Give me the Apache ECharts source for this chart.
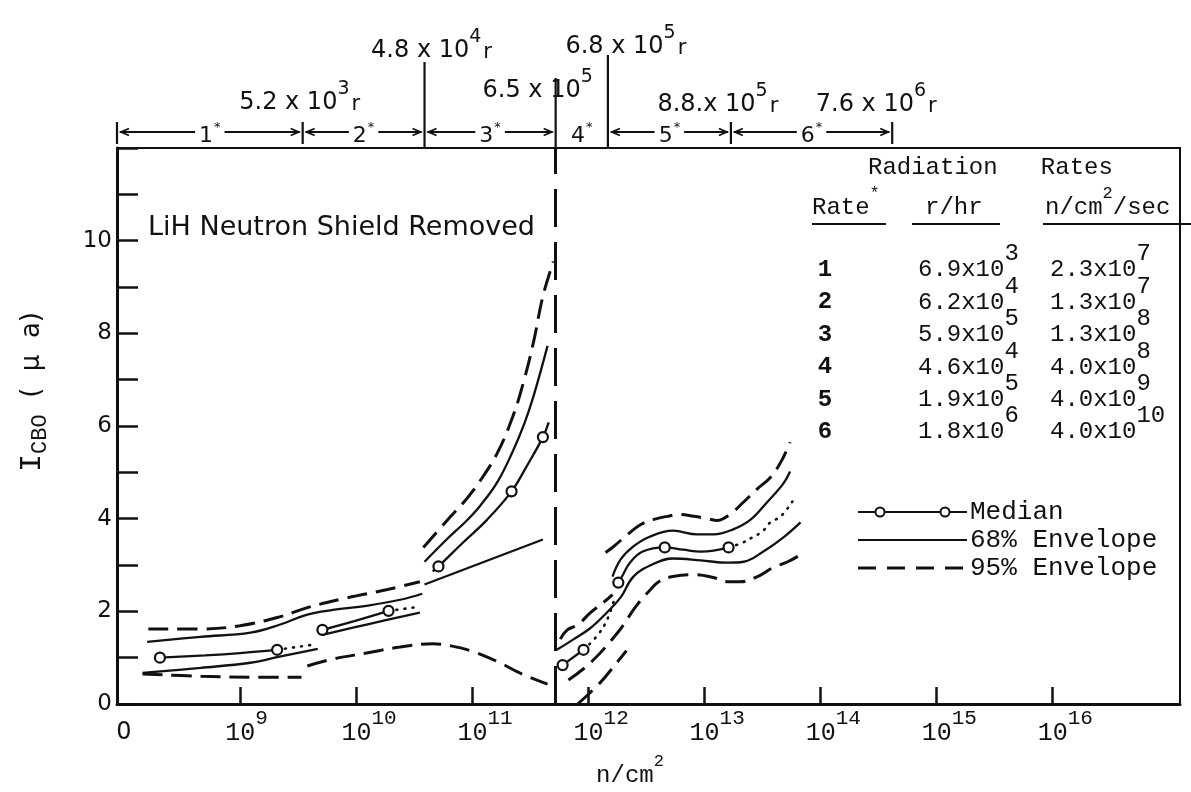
<!DOCTYPE html>
<html>
<head>
<meta charset="utf-8">
<script src="https://cdn.jsdelivr.net/npm/echarts@6.0.0/dist/echarts.min.js"></script>
<style>
html,body{margin:0;padding:0;background:#ffffff;}
#chart{width:1191px;height:792px;}
</style>
</head>
<body>
<div id="chart"></div>
<script>
// ===== DATA (x = log10 of fluence in n/cm^2, y = I_CBO in microamps) =====
const xTickExponents = [9, 10, 11, 12, 13, 14, 15, 16];
const yTickLabels = [0, 2, 4, 6, 8, 10];

// boundaries (log10 fluence) between radiation rates 1..6
const rateBounds = [7.94, 9.54, 10.59, 11.72, 12.17, 13.23, 14.62];
const rateNames = ['1', '2', '3', '4', '5', '6'];
// accumulated dose written at the rate boundaries
const doseMant = ['5.2 x 10', '4.8 x 10', '6.5 x 10', '6.8 x 10', '8.8.x 10', '7.6 x 10'];
const doseExp = ['3', '4', '5', '5', '5', '6'];
const doseUnit = ['r', 'r', '', 'r', 'r', 'r'];

// radiation-rate table
const tableRate = ['1', '2', '3', '4', '5', '6'];
const tableRHrMant = ['6.9x10', '6.2x10', '5.9x10', '4.6x10', '1.9x10', '1.8x10'];
const tableRHrExp = ['3', '4', '5', '4', '5', '6'];
const tableFluxMant = ['2.3x10', '1.3x10', '1.3x10', '4.0x10', '4.0x10', '4.0x10'];
const tableFluxExp = ['7', '7', '8', '8', '9', '10'];

// --- rates 1 & 2 ---
const env95UpA = [[8.21,1.62],[8.66,1.62],[9.00,1.69],[9.34,1.88],[9.58,2.08],[9.92,2.29],[10.27,2.47],[10.55,2.64]];
const env68UpA = [[8.20,1.34],[8.66,1.45],[9.09,1.54],[9.34,1.71],[9.58,1.93],[9.80,2.03],[10.09,2.12],[10.38,2.25],[10.57,2.38]];
const median1 = [[8.31,1.00],[8.70,1.05],[9.00,1.10],[9.32,1.17]];
const median1Circles = [[8.31,1.00],[9.32,1.17]];
const median1Dots = [[9.32,1.17],[9.63,1.28]];
const env68LoA1 = [[8.16,0.67],[8.66,0.78],[9.09,0.89],[9.34,1.02],[9.67,1.19]];
const env95LoA1 = [[8.16,0.65],[8.66,0.60],[9.09,0.58],[9.53,0.58]];
const median2 = [[9.71,1.60],[10.00,1.80],[10.28,2.01]];
const median2Circles = [[9.71,1.60],[10.28,2.01]];
const median2Dots = [[10.28,2.01],[10.55,2.10]];
const env68LoA2 = [[9.71,1.49],[10.10,1.72],[10.55,1.97]];
const env95LoA2 = [[9.58,0.82],[9.80,0.97],[10.09,1.10],[10.38,1.23],[10.66,1.30],[10.81,1.26],[11.01,1.13],[11.24,0.89],[11.41,0.67],[11.65,0.43]];

// --- rate 3 ---
const env95Up3 = [[10.58,3.38],[10.78,3.95],[10.95,4.42],[11.07,4.82],[11.22,5.43],[11.35,6.20],[11.44,6.92],[11.53,7.82],[11.61,8.80],[11.70,9.55]];
const env68Up3 = [[10.59,3.07],[10.78,3.55],[10.95,3.95],[11.07,4.28],[11.22,4.80],[11.35,5.45],[11.45,6.05],[11.53,6.65],[11.65,7.73]];
const median3 = [[10.66,2.86],[10.71,2.97],[10.92,3.48],[11.13,3.98],[11.34,4.59],[11.47,5.13],[11.61,5.76],[11.66,6.08]];
const median3Circles = [[10.71,2.97],[11.34,4.59],[11.61,5.76]];
const env68Lo3 = [[10.59,2.58],[11.61,3.55]];

// --- rates 4, 5, 6 ---
const env95Up4 = [[11.76,1.40],[11.82,1.60],[11.91,1.71],[12.02,1.97],[12.16,2.25],[12.21,2.36]];
const env95Up56 = [[12.15,3.27],[12.22,3.40],[12.34,3.66],[12.45,3.87],[12.56,3.98],[12.68,4.05],[12.79,4.09],[12.91,4.05],[13.03,4.00],[13.11,3.96],[13.22,4.09],[13.34,4.36],[13.46,4.65],[13.57,4.89],[13.66,5.22],[13.74,5.65]];
const env68Up4Lo56 = [[11.73,1.17],[11.87,1.39],[12.02,1.64],[12.16,1.97],[12.28,2.30],[12.39,2.75],[12.56,3.02],[12.73,3.14],[12.97,3.10],[13.20,3.05],[13.34,3.07],[13.51,3.29],[13.68,3.59],[13.83,3.92]];
const env68Up56 = [[12.21,2.75],[12.28,3.12],[12.39,3.40],[12.53,3.61],[12.73,3.74],[12.94,3.66],[13.08,3.66],[13.25,3.77],[13.40,3.98],[13.54,4.35],[13.68,4.75],[13.74,5.02]];
const median4 = [[11.78,0.84],[11.96,1.17]];
const median4Circles = [[11.78,0.84],[11.96,1.17]];
const median4Dots = [[11.96,1.17],[12.07,1.45],[12.16,1.80],[12.23,2.30]];
const median5 = [[12.26,2.62],[12.30,2.79],[12.36,3.05],[12.47,3.29],[12.66,3.38],[12.82,3.33],[12.97,3.29],[13.08,3.31],[13.21,3.38]];
const median5Circles = [[12.26,2.62],[12.66,3.38],[13.21,3.38]];
const median5Dots = [[13.21,3.38],[13.33,3.48],[13.41,3.59],[13.50,3.72],[13.57,3.92],[13.66,4.05],[13.76,4.37]];
const env95Lo456 = [[11.83,0.52],[12.02,0.89],[12.26,1.56],[12.41,2.10],[12.53,2.45],[12.62,2.66],[12.73,2.75],[12.91,2.79],[13.08,2.73],[13.20,2.64],[13.31,2.64],[13.46,2.75],[13.59,2.94],[13.72,3.07],[13.83,3.22]];
const env95Lo4b = [[11.91,0.00],[12.10,0.45],[12.23,0.84],[12.33,1.15]];

// ===== STYLE =====
const K = '#111111';
const SOLID = {color: K, width: 2.3, type: 'solid'};
const DASH = {color: K, width: 3, type: [20, 9]};
const DOT = {color: K, width: 2.6, type: [1, 7], cap: 'round'};
const MONO = '"Liberation Mono", "DejaVu Sans Mono", monospace';
const SANS = '"DejaVu Sans", "Open Sans", sans-serif';

function line(data, style) {
  return {type: 'line', data: data, symbol: 'none', showSymbol: false, smooth: 0.4,
          lineStyle: style, silent: true, z: 3, animation: false};
}
function circles(data) {
  return {type: 'scatter', data: data, symbol: 'circle', symbolSize: 10, silent: true, z: 6,
          itemStyle: {color: '#ffffff', borderColor: K, borderWidth: 2.2, opacity: 1}, animation: false};
}

const series = [
  Object.assign(line(env95UpA, DASH), {
    markLine: {silent: true, symbol: ['none', 'none'], label: {show: false},
      lineStyle: {color: K, width: 3, type: [38, 15]},
      data: [{xAxis: rateBounds[3]}]}
  }),
  line(env68UpA, SOLID), line(median1, SOLID), line(median1Dots, DOT), line(env68LoA1, SOLID), line(env95LoA1, DASH),
  line(median2, SOLID), line(median2Dots, DOT), line(env68LoA2, SOLID), line(env95LoA2, DASH),
  line(env95Up3, DASH), line(env68Up3, SOLID), line(median3, SOLID), line(env68Lo3, SOLID),
  line(env95Up4, DASH), line(env95Up56, DASH), line(env68Up4Lo56, SOLID), line(env68Up56, SOLID),
  line(median4, SOLID), line(median4Dots, DOT), line(median5, SOLID), line(median5Dots, DOT),
  line(env95Lo456, DASH), line(env95Lo4b, DASH),
  circles(median1Circles), circles(median2Circles), circles(median3Circles), circles(median4Circles), circles(median5Circles)
];

const chart = echarts.init(document.getElementById('chart'), null, {renderer: 'canvas', width: 1191, height: 792});

chart.setOption({
  animation: false,
  backgroundColor: '#ffffff',
  grid: {left: 117, top: 148, right: 11, bottom: 88, show: true, borderColor: K, borderWidth: 2},
  xAxis: {
    type: 'value', min: rateBounds[0], max: 17.1,
    axisLine: {show: true, onZero: false, lineStyle: {color: K, width: 3}},
    axisTick: {show: true, inside: true, length: 17, customValues: xTickExponents, lineStyle: {color: K, width: 2.5}},
    splitLine: {show: false},
    axisLabel: {
      customValues: [8].concat(xTickExponents),
      margin: 8,
      formatter: function (v) {
        const e = Math.round(v);
        if (e === 8) return '{z|0}';
        return (e >= 10 ? '{b2|10}' : '{b1|10}') + '{e|' + e + '}';
      },
      rich: {
        z: {fontFamily: SANS, fontSize: 24, color: K, lineHeight: 26, padding: [16, 0, 0, 0]},
        b1: {fontFamily: MONO, fontSize: 25, color: K, lineHeight: 26, padding: [16, 0, 0, 13]},
        b2: {fontFamily: MONO, fontSize: 25, color: K, lineHeight: 26, padding: [16, 0, 0, 26]},
        e: {fontFamily: MONO, fontSize: 21, color: K, lineHeight: 22, padding: [0, 0, 14, 0]}
      }
    }
  },
  yAxis: {
    type: 'value', min: 0, max: 12, interval: 1,
    axisLine: {show: true, lineStyle: {color: K, width: 3}},
    axisTick: {show: true, inside: true, length: 21, lineStyle: {color: K, width: 2.5}},
    splitLine: {show: false},
    axisLabel: {
      margin: 5, color: K, fontFamily: SANS, fontSize: 23,
      formatter: function (v) { return yTickLabels.indexOf(v) >= 0 ? String(v) : ''; }
    }
  },
  series: series
});

// ===== ANNOTATIONS =====
const px = v => chart.convertToPixel({xAxisIndex: 0}, v);
const g = [];
function T(x, y, text, rich, extra) {
  const el = {type: 'text', x: x, y: y, z: 20, silent: true,
    style: Object.assign({text: text, rich: rich, fill: K, font: '24px ' + SANS,
      align: 'center', verticalAlign: 'middle', textAlign: 'center', textVerticalAlign: 'middle'}, extra || {})};
  g.push(el);
}
function L(x1, y1, x2, y2, w, dash) {
  g.push({type: 'line', z: 20, silent: true, shape: {x1: x1, y1: y1, x2: x2, y2: y2},
    style: {stroke: K, lineWidth: w || 2, lineDash: dash || null}});
}
function PL(points, w) {
  g.push({type: 'polyline', z: 20, silent: true, shape: {points: points}, style: {stroke: K, lineWidth: w || 2, fill: null}});
}

const supSans = {
  a: {fontFamily: SANS, fontSize: 24, fill: K, lineHeight: 26, padding: [14, 0, 0, 0]},
  s: {fontFamily: SANS, fontSize: 19, fill: K, lineHeight: 22, padding: [0, 0, 14, 0]},
  r: {fontFamily: SANS, fontSize: 21, fill: K, lineHeight: 22, padding: [18, 0, 0, 2]},
  n: {fontFamily: SANS, fontSize: 22, fill: K, lineHeight: 24, padding: [8, 0, 0, 0]},
  st: {fontFamily: SANS, fontSize: 13, fill: K, lineHeight: 14, padding: [0, 0, 8, 1]}
};
const supMono = {
  a: {fontFamily: MONO, fontSize: 24, fill: K, lineHeight: 26, padding: [16, 0, 0, 0]},
  s: {fontFamily: MONO, fontSize: 24, fill: K, lineHeight: 26, padding: [0, 0, 16, 0]},
  sm: {fontFamily: MONO, fontSize: 17, fill: K, lineHeight: 18, padding: [0, 0, 14, 0]}
};

// dimension bar of rate intervals
const bx = rateBounds.map(px);
const dimY = 132;
const boundTop = [122, 122, 62, 78, 55, 122, 122];
bx.forEach((x, i) => {
  const bottom = (i === 2 || i === 3 || i === 4) ? 148 : 144;
  L(x, boundTop[i], x, bottom, 2.2);
});
for (let i = 0; i < 6; i++) {
  const x1 = bx[i], x2 = bx[i + 1], cx = (x1 + x2) / 2;
  if (i !== 3) {
    L(x1 + 3, dimY, x2 - 3, dimY, 2);
    PL([[x1 + 12, dimY - 3.5], [x1 + 4, dimY], [x1 + 12, dimY + 3.5]], 1.8);
    PL([[x2 - 12, dimY - 3.5], [x2 - 4, dimY], [x2 - 12, dimY + 3.5]], 1.8);
  }
  T(cx, dimY, '{n|' + rateNames[i] + '}{st|*}', supSans,
    {backgroundColor: '#ffffff', padding: [0, 4, 0, 4]});
}
// accumulated dose labels at the boundaries
const doseDx = [-3, 7, -18, 18, -13, -16];
const doseY = [96, 44, 84, 40, 98, 98];
for (let i = 0; i < 6; i++) {
  const txt = '{a|' + doseMant[i] + '}{s|' + doseExp[i] + '}' + (doseUnit[i] ? '{r|' + doseUnit[i] + '}' : '');
  T(bx[i + 1] + doseDx[i], doseY[i], txt, supSans);
}

// inner title
T(148, 228, 'LiH Neutron Shield Removed', null, {font: '27px ' + SANS, align: 'left', textAlign: 'left'});

// axis titles
g.push({type: 'text', x: 32, y: 392, rotation: Math.PI / 2, z: 20, silent: true,
  style: {text: '{i|I}{c|CBO}{p|  (  μ  a)}', fill: K, align: 'center', verticalAlign: 'middle',
    textAlign: 'center', textVerticalAlign: 'middle',
    rich: {
      i: {fontFamily: MONO, fontSize: 30, fill: K, lineHeight: 30},
      c: {fontFamily: MONO, fontSize: 22, fill: K, lineHeight: 22, padding: [16, 0, 0, 0]},
      p: {fontFamily: SANS, fontSize: 26, fill: K, lineHeight: 30}
    }}});
T(630, 768, '{a|n/cm}{sm|2}', supMono);

// radiation rate table
T(868, 168, 'Radiation   Rates', null, {font: '24px ' + MONO, align: 'left', textAlign: 'left'});
T(812, 200, '{a|Rate}{sm|*}', supMono, {align: 'left', textAlign: 'left'});
T(925, 200, '{a|r/hr}', supMono, {align: 'left', textAlign: 'left'});
T(1045, 200, '{a|n/cm}{sm|2}{a|/sec}', supMono, {align: 'left', textAlign: 'left'});
L(812, 224, 886, 224, 2);
L(912, 224, 1000, 224, 2);
L(1043, 224, 1191, 224, 2);
const rowY0 = 270, rowDy = 32.4;
for (let i = 0; i < tableRate.length; i++) {
  const y = rowY0 + i * rowDy;
  T(825, y, tableRate[i], null, {font: 'bold 24px ' + MONO});
  T(918, y - 8, '{a|' + tableRHrMant[i] + '}{s|' + tableRHrExp[i] + '}', supMono, {align: 'left', textAlign: 'left'});
  T(1050, y - 8, '{a|' + tableFluxMant[i] + '}{s|' + tableFluxExp[i] + '}', supMono, {align: 'left', textAlign: 'left'});
}

// legend
const legY = [512, 540, 568];
L(858, legY[0], 967, legY[0], 2.2);
g.push({type: 'circle', z: 21, silent: true, shape: {cx: 880, cy: legY[0], r: 4.5}, style: {fill: '#fff', stroke: K, lineWidth: 2}});
g.push({type: 'circle', z: 21, silent: true, shape: {cx: 945, cy: legY[0], r: 4.5}, style: {fill: '#fff', stroke: K, lineWidth: 2}});
L(858, legY[1], 967, legY[1], 2.2);
L(858, legY[2], 967, legY[2], 3, [18, 11]);
const legText = ['Median', '68% Envelope', '95% Envelope'];
legText.forEach((t, i) => T(970, legY[i], t, null, {font: '26px ' + MONO, align: 'left', textAlign: 'left'}));

chart.setOption({graphic: {elements: g}});
</script>
</body>
</html>
